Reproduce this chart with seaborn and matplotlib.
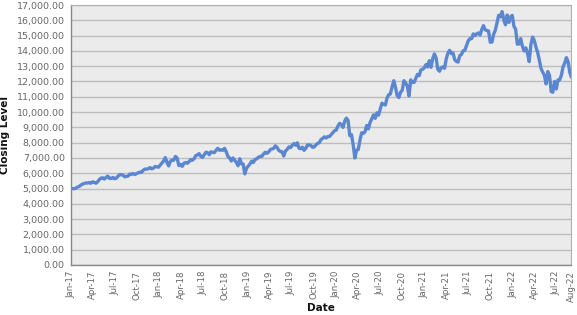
import matplotlib
matplotlib.use("Agg")
import matplotlib.pyplot as plt
import seaborn as sns
import pandas as pd

start_date = "2017-01-06"

closes_2017 = [4994, 4995, 5013, 5089, 5131, 5213, 5285, 5321, 5363, 5359, 5392, 5345, 5436,
               5405, 5347, 5435, 5584, 5680, 5700, 5620, 5730, 5808, 5664, 5660, 5720, 5647,
               5667, 5800, 5900, 5905, 5880, 5768, 5790, 5810, 5950, 5920, 5980, 5920, 5979,
               6030, 6070, 6060, 6200, 6270, 6270, 6300, 6370, 6290, 6330, 6440, 6420, 6396]
closes_2018 = [6530, 6660, 6800, 7022, 6700, 6480, 6780, 6860, 6850, 7100, 6990, 6500, 6581,
               6450, 6650, 6700, 6650, 6750, 6900, 6850, 6950, 7150, 7200, 7280, 7100, 7040,
               7200, 7370, 7350, 7210, 7400, 7360, 7350, 7500, 7625, 7500, 7530, 7500, 7628,
               7400, 7100, 7000, 6800, 7000, 6850, 6700, 6490, 6950, 6620, 6600, 5960, 6330]
closes_2019 = [6460, 6600, 6790, 6700, 6900, 6940, 7040, 7100, 7100, 7250, 7370, 7300, 7378,
               7540, 7590, 7620, 7790, 7700, 7500, 7430, 7400, 7130, 7450, 7560, 7720, 7672,
               7830, 7940, 7830, 7990, 7640, 7600, 7700, 7500, 7630, 7850, 7850, 7820, 7700,
               7720, 7850, 7950, 8000, 8200, 8280, 8380, 8300, 8400, 8400, 8520, 8650, 8780]
closes_2020 = [8820, 9090, 9260, 9190, 9000, 9400, 9600, 9450, 8460, 8530, 7870, 7000, 7500,
               7550, 8150, 8640, 8600, 8720, 9120, 8900, 9320, 9555, 9810, 9590, 9950, 9800,
               10200, 10580, 10500, 10460, 10905, 11140, 11180, 11650, 12050, 11620, 11080, 10950, 11300,
               11420, 12050, 11900, 11700, 11050, 12100, 11940, 11940, 12200, 12460, 12380, 12750, 12800]
closes_2021 = [12888, 13100, 12950, 13360, 12925, 13500, 13800, 13540, 12800, 12670, 12900, 12950, 12860,
               13480, 13850, 14040, 13820, 13860, 13430, 13310, 13270, 13690, 13770, 14000, 14050, 14360,
               14660, 14800, 14800, 15110, 15000, 15120, 15170, 15040, 15400, 15650, 15380, 15330, 15300,
               14570, 14580, 15090, 15350, 15850, 16330, 16230, 16570, 16030, 15710, 16350, 15860, 16230]
closes_2022 = [16320, 15600, 15430, 14440, 14450, 14800, 14300, 14000, 14200, 13840, 13300, 14400, 14900,
               14690, 14250, 13900, 13400, 12850, 12610, 12400, 11840, 12650, 12400, 11340, 11300, 12000,
               11510, 12100, 12100, 12400, 12950, 13200, 13560, 13300, 12600, 12270]

values = closes_2017 + closes_2018 + closes_2019 + closes_2020 + closes_2021 + closes_2022
dates = pd.date_range(start_date, periods=len(values), freq="7D")
df = pd.DataFrame({"Date": dates, "Closing Level": values})

tick_dates = list(pd.date_range("2017-01-01", "2022-07-01", freq="QS")) + [pd.Timestamp("2022-08-31")]
tick_labels = [d.strftime("%b-%y") for d in tick_dates[:-1]] + ["Aug-22"]
y_ticks = list(range(0, 17001, 1000))

sns.set_theme(style="white")
plt.rcParams['font.family'] = ['DejaVu Sans']

fig = plt.figure(figsize=(5.77, 3.15), dpi=100)
ax = fig.add_axes([71/577, 1 - 265/315, 500/577, 260/315])
ax.set_facecolor("#ebebeb")

sns.lineplot(data=df, x="Date", y="Closing Level", ax=ax, color="#5b87d1", linewidth=2.4)

ax.set_xlim(pd.Timestamp("2017-01-01"), pd.Timestamp("2022-08-31"))
ax.set_ylim(0, 17000)
ax.set_yticks(y_ticks)
ax.set_yticklabels([f"{v:,.2f}" for v in y_ticks])
ax.set_xticks(tick_dates)
ax.set_xticklabels(tick_labels, rotation=90)
ax.yaxis.grid(True, color="#bdbdbd", linewidth=1.0)
ax.xaxis.grid(False)
ax.set_axisbelow(True)

ax.tick_params(axis="y", labelsize=6.8, labelcolor="#666666", color="#888888",
               length=3, width=0.8, pad=1.5)
ax.tick_params(axis="x", labelsize=6.2, labelcolor="#666666", color="#888888",
               length=3, width=0.8, pad=1)
for side in ["left", "bottom"]:
    ax.spines[side].set_color("#888888")
    ax.spines[side].set_linewidth(1.0)
for side in ["top", "right"]:
    ax.spines[side].set_color("#b0b0b0")
    ax.spines[side].set_linewidth(0.8)

ax.set_xlabel("Date", fontsize=7.5, fontweight="bold", color="#111111", labelpad=1)
ax.set_ylabel("Closing Level", fontsize=7.5, fontweight="bold", color="#111111", labelpad=5)

fig.savefig("out.png", dpi=100)
